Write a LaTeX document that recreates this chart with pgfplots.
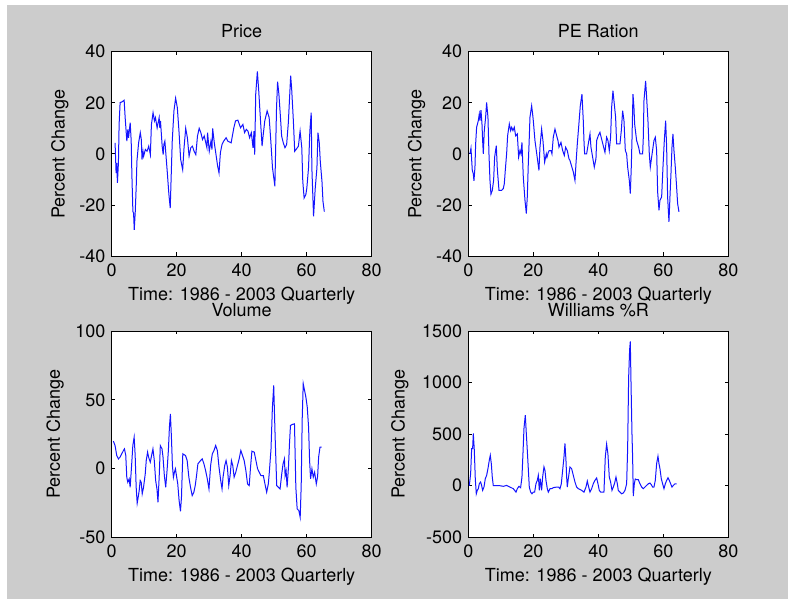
\documentclass[border=0pt]{standalone}
\usepackage{pgfplots}
\pgfplotsset{compat=1.18}
\usepackage{fontspec}
\setmainfont{TeX Gyre Heros}
\definecolor{bgc}{RGB}{204,204,204}
\definecolor{lc}{RGB}{20,20,255}
\pgfplotsset{
  mstyle/.style={
    scale only axis, width=260pt,
    xmin=0, xmax=80, xtick={0,20,40,60,80},
    tick align=inside, major tick length=3.5pt,
    axis line style={black, line width=0.8pt},
    every tick/.style={black, line width=0.8pt},
    axis background/.style={fill=white},
    font=\fontsize{18}{20}\selectfont,
    /pgf/number format/assume math mode=true,
    /pgf/number format/1000 sep={},
    scaled y ticks=false,
    xticklabel style={anchor=base, inner sep=0pt, yshift=-20.3pt},
    yticklabel style={anchor=east, inner sep=0pt, xshift=-6pt},
    title style={at={(axis description cs:0.5,1)}, anchor=base, yshift=8pt, inner sep=0pt},
    xlabel style={at={(axis description cs:0.5,0)}, anchor=base, yshift=-44.5pt, inner sep=0pt},
    ylabel style={at={(axis description cs:-0.199,0.5)}, anchor=center, inner sep=0pt},
    xlabel={Time: 1986 - 2003 Quarterly},
    ylabel={Percent Change},
  },
  ln/.style={lc, line width=1pt, mark=none},
}
\begin{document}
\begin{tikzpicture}
\useasboundingbox (0,0) rectangle (788pt,599pt);
\fill[white] (0,0) rectangle (788pt,599pt);
\fill[bgc] (7pt,0) rectangle (788pt,594pt);

\begin{axis}[mstyle, at={(111.7pt,343pt)}, anchor=south west, height=204.3pt,
  ymin=-40, ymax=40, ytick={-40,-20,0,20,40}, title={Price}]
\addplot[ln] coordinates {
(1.04,4.3)(1.35,-7.5)(1.55,-3.5)(1.76,-11.4)(2.07,-3.5)(2.28,11.5)(2.59,20.1)(3.11,20.3)(3.83,21.0)(4.14,14.2)
(4.66,5.0)(4.97,9.6)(5.18,6.3)(5.69,12.2)(6.00,5.0)(6.21,-8.1)(6.52,-22.6)(6.73,-23.2)(6.94,-29.8)(7.25,-22.6)
(7.56,-12.1)(7.76,-2.9)(8.28,4.3)(8.80,8.3)(9.11,5.6)(9.32,-2.2)(9.63,1.0)(9.83,-0.9)(10.35,1.7)(10.87,1.0)
(11.39,3.0)(11.90,-0.3)(12.22,11.5)(12.73,16.1)(13.15,12.9)(13.46,14.2)(13.98,10.2)(14.60,14.2)(14.80,10.2)(15.01,12.9)
(15.53,3.0)(15.84,-0.3)(16.05,3.7)(16.36,5.0)(17.08,-6.8)(17.60,-15.9)(18.01,-21.2)(18.32,-8.1)(18.63,5.0)(19.15,16.8)
(19.67,21.8)(20.19,18.1)(20.70,8.9)(21.22,-2.2)(21.84,-6.2)(22.26,2.4)(22.77,10.0)(23.29,6.3)(23.81,-0.9)(24.33,2.4)
(24.84,3.0)(25.36,1.0)(25.88,-0.3)(26.40,7.0)(26.92,10.0)(27.43,8.3)(27.95,5.6)(28.47,7.0)(29.30,2.4)(29.50,8.3)
(30.02,1.0)(30.54,5.0)(30.85,1.7)(31.06,10.0)(31.57,4.3)(32.09,-0.3)(32.61,-4.9)(33.02,-7.5)(33.44,0.4)(33.95,3.7)
(34.47,5.0)(35.20,6.3)(35.71,5.0)(36.75,4.3)(37.58,10.2)(38.10,12.9)(38.82,13.2)(39.65,10.2)(40.37,11.5)(40.89,8.3)
(41.41,9.6)(41.93,8.9)(42.44,6.3)(42.96,8.3)(43.48,2.4)(43.79,8.9)(44.00,-0.3)(44.31,23.3)(44.82,32.3)(45.24,24.7)
(45.55,18.1)(45.86,11.5)(46.27,3.0)(46.58,7.0)(47.10,12.9)(47.83,16.8)(48.45,14.2)(48.96,5.0)(49.48,-5.5)(50.21,-12.7)
(50.41,-0.3)(50.72,18.1)(51.04,28.3)(51.45,23.3)(51.97,13.5)(52.28,7.0)(52.80,4.3)(53.31,2.4)(53.83,3.7)(54.35,12.2)
(55.07,30.6)(55.38,25.3)(55.90,12.9)(56.31,1.0)(56.73,1.7)(57.45,3.0)(57.97,8.9)(58.49,2.4)(58.80,-10.8)(59.21,-17.3)
(59.73,-16.0)(60.04,-13.4)(60.56,-5.5)(60.97,8.9)(61.39,16.1)(61.59,-5.5)(62.11,-24.5)(62.63,-13.4)(63.15,-5.5)(63.46,8.3)
(63.87,4.3)(64.18,-2.9)(64.70,-10.8)(65.01,-18.6)(65.42,-22.6)
};
\end{axis}

\begin{axis}[mstyle, at={(468.3pt,343pt)}, anchor=south west, height=204.3pt,
  ymin=-40, ymax=40, ytick={-40,-20,0,20,40}, title={PE Ration}]
\addplot[ln] coordinates {
(0.51,0)(0.82,2.2)(1.23,-6.5)(1.54,-7.8)(1.74,-10.6)(2.05,-5.2)(2.26,3.9)(2.56,10.4)(3.08,13.0)(3.38,15.6)
(3.59,13.0)(3.90,17.1)(4.21,11.7)(4.41,5.2)(4.62,0)(4.92,9.1)(5.33,14.3)(5.64,20.1)(6.05,14.3)(6.36,0)
(6.67,-10.4)(6.97,-15.8)(7.38,-14.3)(7.79,-10.4)(8.10,-1.3)(8.62,3.2)(8.92,-5.8)(9.44,-14.3)(10.26,-14.3)(10.77,-13.6)
(11.08,-11.7)(11.38,-6.5)(11.79,0)(12.10,7.1)(12.62,11.7)(13.03,9.1)(13.33,10.4)(13.74,9.1)(14.15,10.4)(14.56,7.1)
(15.08,7.8)(15.49,-1.3)(15.90,1.3)(16.21,0)(16.51,4.5)(16.92,-9.1)(17.44,-18.2)(17.85,-23.4)(18.15,-16.9)(18.46,-3.9)
(18.77,6.5)(18.97,14.3)(19.49,18.8)(19.79,15.6)(20.00,13.0)(20.51,5.2)(21.33,-2.6)(21.74,-6.5)(22.05,2.6)(22.56,9.7)
(22.97,5.2)(23.49,-3.2)(24.00,0)(24.21,-1.3)(24.62,0.6)(24.92,1.3)(25.44,1.3)(25.74,0)(26.15,6.5)(26.67,9.7)
(27.18,7.1)(27.59,5.2)(27.90,2.6)(28.51,4.5)(29.03,1.3)(29.54,-0.6)(29.95,2.6)(30.46,1.3)(30.97,-1.9)(31.28,-2.6)
(32.31,-7.1)(32.82,-10.4)(33.13,-3.9)(33.54,3.9)(33.95,10.4)(34.46,18.8)(34.97,23.4)(35.38,13.0)(35.59,5.2)(35.79,0)
(36.41,0)(36.92,3.9)(37.44,7.8)(37.74,2.6)(38.77,-5.2)(39.28,-1.9)(39.49,5.2)(40.00,7.1)(40.51,8.4)(41.13,5.2)
(41.64,2.6)(42.05,0.6)(42.56,6.5)(42.97,5.2)(43.38,1.3)(43.79,6.5)(44.10,18.2)(44.51,24.7)(44.92,19.5)(45.33,14.3)
(45.64,3.9)(46.67,3.9)(47.08,9.1)(47.49,16.9)(47.90,13.0)(48.31,1.3)(48.72,0)(49.03,-5.2)(49.54,-10.4)(49.85,-15.6)
(50.15,-5.2)(50.36,5.2)(50.67,23.4)(50.97,18.2)(51.18,11.7)(51.79,5.2)(52.41,2.6)(52.82,0)(53.64,0)(53.85,6.5)
(54.05,20.8)(54.56,28.6)(54.87,22.1)(55.28,13.0)(55.69,0)(56.00,-5.2)(56.41,-1.3)(57.13,5.2)(57.54,6.5)(57.95,1.3)
(58.26,-14.9)(58.67,-22.1)(58.97,-18.2)(59.49,-16.9)(59.90,-5.2)(60.31,5.2)(60.72,13.0)(61.03,2.6)(61.33,-16.9)(61.74,-26.6)
(62.05,-16.9)(62.36,-7.8)(62.67,2.6)(62.97,7.8)(63.28,1.3)(63.69,-5.2)(64.10,-13.0)(64.41,-19.5)(64.82,-22.7)
};
\end{axis}

\begin{axis}[mstyle, at={(111.7pt,61.7pt)}, anchor=south west, height=206.3pt,
  ymin=-50, ymax=100, ytick={-50,0,50,100}, title={Volume},
  ylabel style={at={(axis description cs:-0.218,0.5)}}]
\addplot[ln] coordinates {
(0.52,19.9)(1.03,16.7)(1.55,9.5)(2.06,7.0)(2.58,8.3)(3.10,10.7)(3.61,13.1)(3.92,14.3)(4.33,9.5)(4.64,-6.3)
(4.95,-10.0)(5.37,-7.5)(5.68,-13.6)(6.19,4.6)(6.50,16.7)(6.91,22.8)(7.22,9.5)(7.53,-13.6)(7.84,-25.2)(8.15,-20.9)
(8.46,-16.0)(8.77,-8.7)(9.08,-10.0)(9.39,-18.4)(9.80,-13.6)(10.32,-3.9)(10.63,5.8)(11.04,11.9)(11.35,8.3)(11.87,4.6)
(12.38,10.7)(12.69,14.3)(13.11,5.8)(13.52,-8.7)(13.93,-14.8)(14.24,-24.5)(14.65,-3.9)(14.96,16.7)(15.48,14.3)(15.79,8.3)
(16.20,-5.1)(16.62,-13.6)(17.03,-1.5)(17.44,13.1)(17.75,29.6)(18.06,39.8)(18.37,23.3)(18.68,2.2)(18.99,-6.3)(19.30,-2.7)
(19.61,-0.2)(19.92,-5.1)(20.33,-11.2)(20.74,-23.3)(21.16,-31.1)(21.47,-20.9)(21.88,10.7)(22.19,10.2)(22.70,9.5)(23.22,5.8)
(23.74,-6.3)(24.25,-13.6)(24.77,-19.7)(25.28,-17.2)(25.70,-12.4)(26.11,-5.1)(26.52,3.4)(26.94,4.6)(27.35,5.8)(27.86,7.0)
(28.38,3.4)(28.90,-1.5)(29.41,-7.5)(29.93,-14.8)(30.44,2.2)(30.96,10.7)(31.48,13.1)(31.99,16.7)(32.51,13.1)(33.02,1.0)
(33.54,-8.7)(33.95,-14.8)(34.26,-6.3)(34.78,2.2)(35.19,5.8)(35.60,1.0)(36.02,-12.4)(36.43,-5.1)(36.84,5.8)(37.25,2.2)
(37.67,-6.3)(38.18,-2.7)(38.70,2.2)(39.22,7.0)(39.73,13.1)(40.25,9.5)(40.76,5.8)(41.28,-1.5)(41.80,-11.2)(42.31,-12.4)
(42.72,1.0)(43.14,12.6)(43.86,11.9)(44.38,5.8)(44.89,-0.2)(45.41,-2.7)(45.92,-5.1)(46.65,-5.1)(47.16,-11.2)(47.68,-17.2)
(48.19,-11.2)(48.50,-2.7)(49.02,14.3)(49.43,43.4)(49.85,60.4)(50.26,25.2)(50.77,-12.4)(51.29,-13.6)(51.81,-14.8)(52.32,-3.9)
(52.73,3.4)(53.15,7.0)(53.35,-5.1)(53.66,-1.5)(53.97,-13.6)(54.39,1.0)(54.70,18.0)(55.01,31.3)(55.52,32.0)(56.24,32.5)
(56.66,-13.6)(57.07,-29.4)(57.59,-30.6)(58.00,-35.4)(58.31,-12.4)(58.62,36.2)(58.93,61.7)(59.34,56.8)(59.75,51.9)(60.17,44.7)
(60.58,30.1)(60.89,5.8)(61.20,-7.5)(61.61,-0.2)(62.02,-6.3)(62.44,-2.7)(62.95,-11.2)(63.36,-5.8)(63.67,8.3)(64.09,15.5)
(64.60,15.5)
};
\end{axis}

\begin{axis}[mstyle, at={(468.3pt,61.7pt)}, anchor=south west, height=206.3pt,
  ymin=-500, ymax=1500, ytick={-500,0,500,1000,1500}, title={Williams \%R},
  ylabel style={at={(axis description cs:-0.263,0.5)}}]
\addplot[ln] coordinates {
(0.31,0)(0.72,117)(1.03,360)(1.33,360)(1.54,506)(1.85,344)(2.15,68)(2.46,-78)(2.77,-45)(3.08,-29)
(3.38,19)(3.79,36)(4.10,3)(4.41,-45)(4.82,-13)(5.23,68)(5.64,100)(6.05,166)(6.46,247)(6.77,295)
(7.08,214)(7.38,84)(7.69,0)(8.72,0)(9.74,0)(10.77,-6)(11.79,3)(12.82,-13)(13.85,-29)(14.67,-62)
(15.08,-29)(15.59,-6)(16.10,-19)(16.51,84)(16.82,312)(17.13,555)(17.54,685)(17.85,506)(18.15,344)(18.46,166)
(18.77,-13)(19.18,-62)(19.59,-78)(20.00,-62)(20.41,-62)(20.82,19)(21.23,52)(21.54,100)(21.85,-45)(22.15,68)
(22.56,-45)(22.87,84)(23.28,182)(23.59,149)(23.90,52)(24.31,-29)(24.62,-62)(25.13,-29)(25.64,-29)(26.15,-19)
(27.18,-13)(27.79,-13)(28.21,-29)(28.62,19)(29.03,149)(29.44,279)(29.74,409)(30.05,247)(30.26,84)(30.46,-13)
(30.77,68)(31.28,182)(31.79,166)(32.31,100)(32.82,36)(33.33,-13)(33.85,-29)(34.87,-45)(35.59,-62)(36.21,-13)
(36.62,45)(36.92,3)(37.44,-62)(37.95,-29)(38.46,19)(38.97,52)(39.49,75)(39.90,19)(40.31,-45)(40.72,-62)
(41.33,-62)(41.74,-62)(42.15,279)(42.56,403)(42.97,305)(43.38,84)(43.79,36)(44.21,-45)(44.62,-13)(45.03,26)
(45.44,84)(45.85,19)(46.15,-45)(46.67,-62)(47.18,-78)(47.69,-71)(48.21,-45)(48.72,19)(49.03,360)(49.33,1042)
(49.64,1320)(49.85,1400)(50.05,1026)(50.36,506)(50.56,279)(50.77,-100)(51.08,19)(51.38,65)(51.79,58)(52.31,58)
(52.82,19)(53.33,-13)(53.85,-29)(54.36,-13)(54.87,3)(55.38,19)(55.90,26)(56.31,10)(56.72,-13)(57.13,-13)
(57.54,52)(57.95,214)(58.36,286)(58.67,214)(58.97,166)(59.38,68)(59.79,19)(60.21,-29)(60.62,19)(61.03,52)
(61.44,78)(61.85,52)(62.26,19)(62.67,-13)(63.08,3)(63.59,19)(64.10,19)
};
\end{axis}
\end{tikzpicture}
\end{document}
